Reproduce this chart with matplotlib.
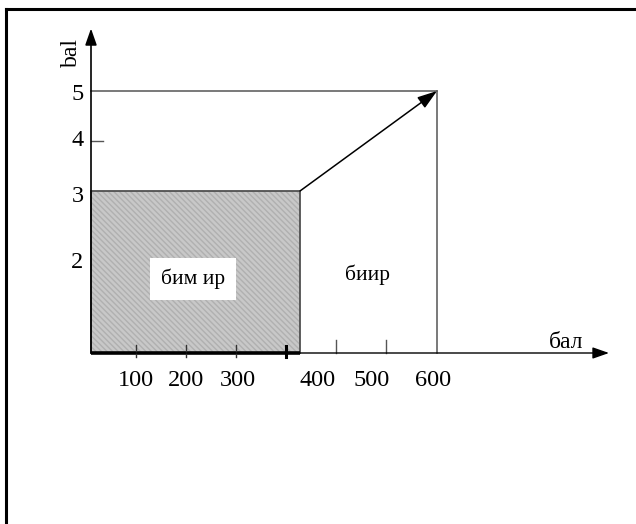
import matplotlib
matplotlib.use("Agg")
import matplotlib.pyplot as plt
from matplotlib.patches import Rectangle
from matplotlib.lines import Line2D

plt.rcParams['font.family'] = ['Liberation Serif', 'DejaVu Serif']

# данные схемы
x_ticks = [100, 200, 300, 400, 500, 600]
x_tick_labels = ["100", "200", "300", "400", "500", "600"]
y_tick_labels = ["2", "3", "4", "5"]
threshold_x = 428      # граница заштрихованной области
max_x = 702            # правая граница
threshold_y = 3
max_y = 5
inner_label = "бим ир"
outer_label = "биир"
x_title = "бал"
y_title = "bal"

# положения (схема не в масштабе)
origin_x = 10
origin_y = -0.24
x_label_pos = [100, 200, 304, 464, 572, 694]
y_label_pos = [1.58, 2.9, 4.0, 4.94]

fig = plt.figure(figsize=(6.36, 5.24), dpi=100)
ax = fig.add_axes([0, 0, 1, 1])
ax.set_xlim(-172, 1100)
ax.set_ylim(-3.66, 6.82)
ax.axis("off")

# рамка
fig.add_artist(Line2D([6 / 636, 1], [1 - 9 / 524, 1 - 9 / 524], color="black", lw=2.2,
                      transform=fig.transFigure))
fig.add_artist(Line2D([6 / 636, 6 / 636], [0, 1 - 9 / 524], color="black", lw=2.2,
                      transform=fig.transFigure))

# заштрихованная область
ax.add_patch(Rectangle((origin_x, origin_y), threshold_x - origin_x, threshold_y - origin_y,
                       facecolor="#c8c8c8", edgecolor="#b0b0b0", hatch="\\\\\\\\\\\\", lw=0))
ax.add_patch(Rectangle((origin_x, origin_y), threshold_x - origin_x, threshold_y - origin_y,
                       facecolor="none", edgecolor="#505050", lw=1.3))

# внешний прямоугольник
ax.plot([origin_x, max_x], [max_y, max_y], color="#555555", lw=1.1)
ax.plot([max_x, max_x], [origin_y, max_y], color="#555555", lw=1.1)

# стрелка
ax.annotate("", xy=(max_x, max_y), xytext=(threshold_x, threshold_y),
            arrowprops=dict(arrowstyle="-|>,head_length=1.2,head_width=0.4",
                            color="black", lw=1.1, shrinkA=0, shrinkB=0))

# оси
ax.annotate("", xy=(origin_x, 6.25), xytext=(origin_x, origin_y),
            arrowprops=dict(arrowstyle="-|>,head_length=1.0,head_width=0.35",
                            color="black", lw=1.2, shrinkA=0, shrinkB=0))
ax.annotate("", xy=(1046, origin_y), xytext=(origin_x, origin_y),
            arrowprops=dict(arrowstyle="-|>,head_length=1.0,head_width=0.35",
                            color="black", lw=1.0, shrinkA=0, shrinkB=0))
ax.plot([origin_x, threshold_x], [origin_y, origin_y], color="black", lw=2.6,
        solid_capstyle="butt")

# деления
for xt in x_ticks:
    if xt == 400:
        ax.plot([xt, xt], [origin_y - 0.08, origin_y + 0.14], color="black", lw=2.2)
    elif xt < 400:
        ax.plot([xt, xt], [origin_y - 0.08, origin_y + 0.16], color="#333333", lw=1)
    else:
        ax.plot([xt, xt], [origin_y, origin_y + 0.26], color="#555555", lw=1)
ax.plot([origin_x, origin_x + 24], [4, 4], color="#555555", lw=1)

for xp, lab in zip(x_label_pos, x_tick_labels):
    ax.text(xp, -0.8, lab, ha="center", va="center", fontsize=17.5)
for yp, lab in zip(y_label_pos, y_tick_labels):
    ax.text(-5, yp, lab, ha="right", va="center", fontsize=17.5)

ax.text(-30, 5.78, y_title, rotation=90, ha="center", va="center", fontsize=17)
ax.text(960, -0.04, x_title, ha="center", va="center", fontsize=17)

ax.text(214, 1.24, inner_label, ha="center", va="center", fontsize=15.5,
        bbox=dict(facecolor="white", edgecolor="none", boxstyle="square,pad=0.5"))
ax.text(562, 1.32, outer_label, ha="center", va="center", fontsize=15.5)

fig.savefig("out.png", dpi=100)
